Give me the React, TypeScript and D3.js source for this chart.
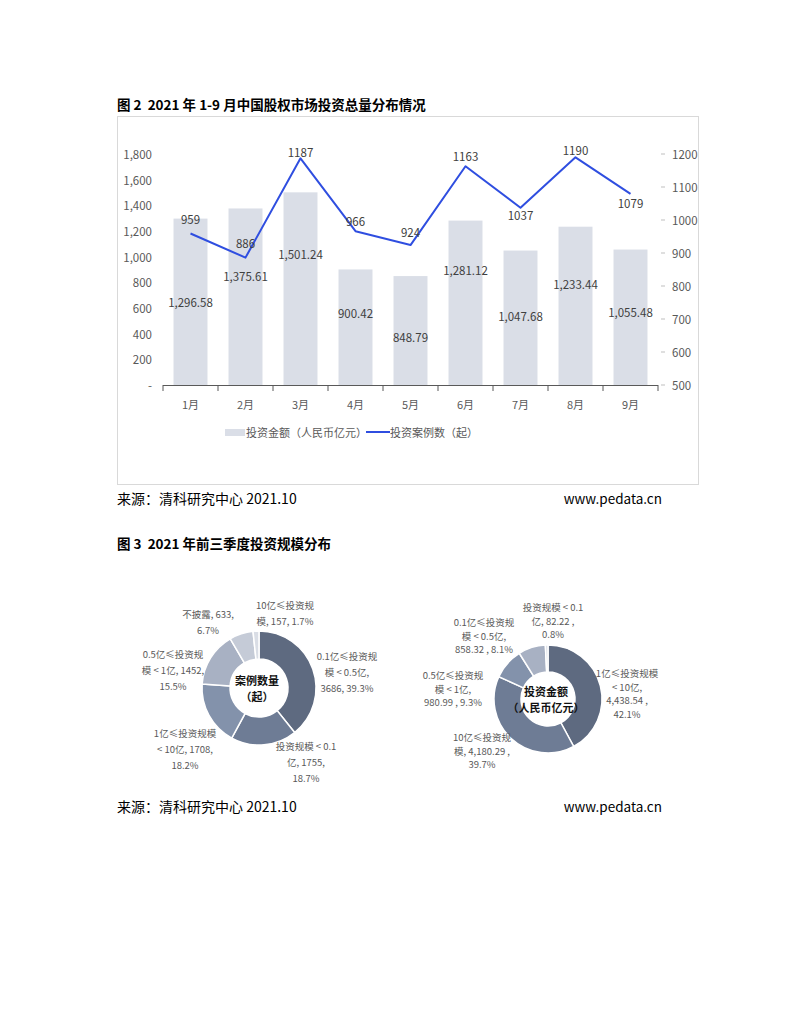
import React from 'react';
import * as d3 from 'd3';

// ---------- Figure 2 data ----------
const months = ['1月', '2月', '3月', '4月', '5月', '6月', '7月', '8月', '9月'];
const amounts = [1296.58, 1375.61, 1501.24, 900.42, 848.79, 1281.12, 1047.68, 1233.44, 1055.48];
const counts = [959, 886, 1187, 966, 924, 1163, 1037, 1190, 1079];
const leftTicks = [0, 200, 400, 600, 800, 1000, 1200, 1400, 1600, 1800];
const rightTicks = [500, 600, 700, 800, 900, 1000, 1100, 1200];
// where each amount label sits (in left-axis units)
const amountLabelAt = [647, 849, 1021, 561, 374, 896, 538, 787, 569];
// count labels: vertical offset from the point (px)
const countLabelDy = [-15, -15, -6, -10, -13, -10, 7, -7, 9];

// ---------- Figure 3 data ----------
const leftCats = ['0.1亿≤投资规模<0.5亿', '投资规模<0.1亿', '1亿≤投资规模<10亿', '0.5亿≤投资规模<1亿', '不披露', '10亿≤投资规模'];
const leftVals = [3686, 1755, 1708, 1452, 633, 157];
const leftLabels = [
  ['0.1亿≤投资规', '模 < 0.5亿,', '3686, 39.3%'],
  ['投资规模 < 0.1', '亿, 1755,', '18.7%'],
  ['1亿≤投资规模', '< 10亿, 1708,', '18.2%'],
  ['0.5亿≤投资规', '模 < 1亿, 1452,', '15.5%'],
  ['不披露, 633,', '6.7%'],
  ['10亿≤投资规', '模, 157, 1.7%'],
];
const leftLabelPos = [[88, -32], [47, 58], [-74, 45], [-86, -34], [-51, -74], [26, -83]];

const rightCats = ['1亿≤投资规模<10亿', '10亿≤投资规模', '0.5亿≤投资规模<1亿', '0.1亿≤投资规模<0.5亿', '投资规模<0.1亿'];
const rightVals = [4438.54, 4180.29, 980.99, 858.32, 82.22];
const rightLabels = [
  ['1亿≤投资规模', '< 10亿,', '4,438.54 ,', '42.1%'],
  ['10亿≤投资规', '模, 4,180.29 ,', '39.7%'],
  ['0.5亿≤投资规', '模 < 1亿,', '980.99 , 9.3%'],
  ['0.1亿≤投资规', '模 < 0.5亿,', '858.32 , 8.1%'],
  ['投资规模 < 0.1', '亿, 82.22 ,', '0.8%'],
];
const rightLabelPos = [[79, -26], [-66, 38], [-95, -24], [-64, -77], [5, -92]];

const FONT = '"Noto Sans CJK SC", "Noto Sans", sans-serif';
const AXIS_COLOR = '#595959';
const LABEL_COLOR = '#404040';
const BAR_COLOR = '#DADEE7';
const LINE_COLOR = '#2F4EE0';
const donutColors = ['#5E6A80', '#6E7C95', '#8392AB', '#A8B1C3', '#C5CBD7', '#D9DDE5'];
const donutColorsR = ['#5E6A80', '#6E7C95', '#8392AB', '#A8B1C3', '#D9DDE5'];

function Donut({ cx, cy, rOuter, rInner, values, colors, labels, labelPos, lineH, center }: any) {
  const pie = d3.pie<number>().sort(null).value((d) => d);
  const arcs = pie(values);
  const arc = d3.arc<d3.PieArcDatum<number>>().innerRadius(rInner).outerRadius(rOuter);
  return (
    <g>
      <g transform={`translate(${cx},${cy})`}>
        {arcs.map((a, i) => (
          <path key={i} d={arc(a) || ''} fill={colors[i]} stroke="#fff" strokeWidth={1.5} />
        ))}
        {center.map((t: string, i: number) => (
          <text key={i} x={-2} y={(i - (center.length - 1) / 2) * 16} textAnchor="middle" dominantBaseline="central"
            fontSize={11} fontWeight="bold" fill="#111">{t}</text>
        ))}
      </g>
      {labels.map((lines: string[], i: number) => (
        <g key={i}>
          {lines.map((t, j) => (
            <text key={j} x={cx + labelPos[i][0]} y={cy + labelPos[i][1] + j * lineH} textAnchor="middle"
              dominantBaseline="central" fontSize={9.5} fill="#595959">{t}</text>
          ))}
        </g>
      ))}
    </g>
  );
}

export default function App() {
  const x = d3.scaleBand<string>().domain(months).range([163, 658]).paddingInner(0.382).paddingOuter(0.191);
  const step = x.step();
  const yL = d3.scaleLinear().domain([0, 1800]).range([385, 154]);
  const yR = d3.scaleLinear().domain([500, 1200]).range([385, 154]);
  const line = d3.line<number>()
    .x((_, i) => (x(months[i]) as number) + x.bandwidth() / 2)
    .y((d) => yR(d));

  const boundaries = d3.range(months.length + 1).map((i) => 163 + i * step);
  const pre = { whiteSpace: 'pre' as const };

  return (
    <svg width={791} height={1024} style={{ position: 'absolute', left: 0, top: 0, fontFamily: FONT }}>
      <rect x={0} y={0} width={791} height={1024} fill="#fff" />
      {/* Figure 2 title */}
      <text x={117} y={104} dominantBaseline="central" fontSize={13.5} fontWeight="bold" fill="#000" style={pre}>
        {'图 2  2021 年 1-9 月中国股权市场投资总量分布情况'}
      </text>
      <rect x={117.5} y={116.5} width={581} height={368} fill="none" stroke="#D9D9D9" strokeWidth={1} />

      {/* bars */}
      {amounts.map((v, i) => (
        <rect key={i} x={x(months[i])} y={yL(v)} width={x.bandwidth()} height={yL(0) - yL(v)} fill={BAR_COLOR} />
      ))}
      {/* x axis */}
      <line x1={163} x2={658} y1={385.5} y2={385.5} stroke={AXIS_COLOR} strokeWidth={1} />
      {boundaries.map((bx, i) => (
        <line key={i} x1={bx} x2={bx} y1={385} y2={391} stroke={AXIS_COLOR} strokeWidth={1} />
      ))}
      {months.map((m) => (
        <text key={m} x={(x(m) as number) + x.bandwidth() / 2} y={404} textAnchor="middle" dominantBaseline="central"
          fontSize={11} fill={AXIS_COLOR}>{m}</text>
      ))}
      {/* left axis */}
      {leftTicks.map((t) => (
        <text key={t} x={152} y={yL(t)} textAnchor="end" dominantBaseline="central" fontSize={11.5} fill={AXIS_COLOR}>
          {t === 0 ? '-' : d3.format(',')(t)}
        </text>
      ))}
      {/* right axis */}
      {rightTicks.map((t) => (
        <g key={t}>
          <line x1={661} x2={665} y1={yR(t)} y2={yR(t)} stroke="#BFBFBF" strokeWidth={1} />
          <text x={672} y={yR(t)} textAnchor="start" dominantBaseline="central" fontSize={11.5} fill={AXIS_COLOR}>{t}</text>
        </g>
      ))}
      {/* line */}
      <path d={line(counts) || ''} fill="none" stroke={LINE_COLOR} strokeWidth={2} strokeLinejoin="round" />
      {/* labels */}
      {amounts.map((v, i) => (
        <text key={i} x={(x(months[i]) as number) + x.bandwidth() / 2} y={yL(amountLabelAt[i])} textAnchor="middle"
          dominantBaseline="central" fontSize={11.5} fill={LABEL_COLOR}>{d3.format(',.2f')(v)}</text>
      ))}
      {counts.map((v, i) => (
        <text key={i} x={(x(months[i]) as number) + x.bandwidth() / 2} y={yR(v) + countLabelDy[i]} textAnchor="middle"
          dominantBaseline="central" fontSize={11.5} fill={LABEL_COLOR}>{v}</text>
      ))}
      {/* legend */}
      <rect x={225} y={429} width={20} height={7} fill={BAR_COLOR} />
      <text x={246} y={432} dominantBaseline="central" fontSize={11} fill={AXIS_COLOR}>投资金额（人民币亿元）</text>
      <line x1={366} x2={390} y1={432} y2={432} stroke={LINE_COLOR} strokeWidth={2} />
      <text x={390} y={432} dominantBaseline="central" fontSize={11} fill={AXIS_COLOR}>投资案例数（起）</text>

      {/* footer 1 */}
      <text x={117} y={498} dominantBaseline="central" fontSize={14} fill="#000" style={pre}>{'来源：清科研究中心 2021.10'}</text>
      <text x={662} y={498} textAnchor="end" dominantBaseline="central" fontSize={13.5} fill="#000">www.pedata.cn</text>

      {/* Figure 3 */}
      <text x={117} y={543} dominantBaseline="central" fontSize={13.5} fontWeight="bold" fill="#000" style={pre}>
        {'图 3  2021 年前三季度投资规模分布'}
      </text>
      <Donut cx={259} cy={688} rOuter={57} rInner={29} values={leftVals} colors={donutColors}
        labels={leftLabels} labelPos={leftLabelPos} lineH={16} center={['案例数量', '（起）']} />
      <Donut cx={548} cy={699} rOuter={54} rInner={27} values={rightVals} colors={donutColorsR}
        labels={rightLabels} labelPos={rightLabelPos} lineH={13.5} center={['投资金额', '（人民币亿元）']} />

      {/* footer 2 */}
      <text x={117} y={806} dominantBaseline="central" fontSize={14} fill="#000" style={pre}>{'来源：清科研究中心 2021.10'}</text>
      <text x={662} y={806} textAnchor="end" dominantBaseline="central" fontSize={13.5} fill="#000">www.pedata.cn</text>
    </svg>
  );
}
